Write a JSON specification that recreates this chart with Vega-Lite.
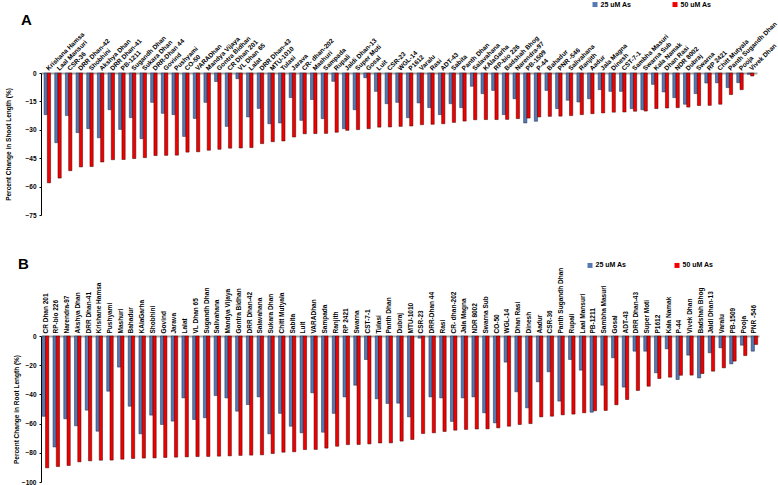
{
  "$schema": "https://vega.github.io/schema/vega-lite/v6.json",
  "background": "white",
  "padding": {"left": 5, "top": 0, "right": 0, "bottom": 0},
  "spacing": 37,
  "config": {
    "view": {"stroke": null},
    "font": "Liberation Sans",
    "axis": {"labelFont": "Liberation Sans", "titleFont": "Liberation Sans", "labelColor": "black", "titleColor": "black"},
    "legend": {"labelFont": "Liberation Sans"},
    "title": {"font": "Liberation Sans"}
  },
  "resolve": {"scale": {"color": "independent", "stroke": "independent"}, "legend": {"color": "independent"}},
  "datasets": {
    "shootLength": [
      {"Variety": "Krishana Hamsa", "25 uM As": -22, "50 uM As": -58},
      {"Variety": "Laal Mansuri", "25 uM As": -36.8, "50 uM As": -55.5},
      {"Variety": "CSR-36", "25 uM As": -22.5, "50 uM As": -51.6},
      {"Variety": "DRR Dhan-42", "25 uM As": -31.5, "50 uM As": -49.6},
      {"Variety": "Shobhini", "25 uM As": -29.4, "50 uM As": -49.4},
      {"Variety": "Akshya Dhan", "25 uM As": -34.2, "50 uM As": -47},
      {"Variety": "DRR Dhan-41", "25 uM As": -19.4, "50 uM As": -45.8},
      {"Variety": "PB-1211", "25 uM As": -29.8, "50 uM As": -45.7},
      {"Variety": "Sugandh Dhan", "25 uM As": -23.6, "50 uM As": -45.2},
      {"Variety": "Sukara Dhan", "25 uM As": -34.7, "50 uM As": -44.7},
      {"Variety": "DRR-Dhan 44", "25 uM As": -15.5, "50 uM As": -43.6},
      {"Variety": "Govind", "25 uM As": -21.3, "50 uM As": -43.5},
      {"Variety": "Pushyami", "25 uM As": -22, "50 uM As": -43.4},
      {"Variety": "CO-50", "25 uM As": -33.5, "50 uM As": -41.8},
      {"Variety": "VARADhan", "25 uM As": -24, "50 uM As": -41.6},
      {"Variety": "Mandya Vijaya", "25 uM As": -15.5, "50 uM As": -40.8},
      {"Variety": "Gontra Bidhan", "25 uM As": -4.5, "50 uM As": -40.3},
      {"Variety": "CR Dhan 201", "25 uM As": -28.2, "50 uM As": -39.7},
      {"Variety": "VL Dhan 65", "25 uM As": -3, "50 uM As": -39.6},
      {"Variety": "Lalat", "25 uM As": -23.2, "50 uM As": -39.4},
      {"Variety": "DRR Dhan-43", "25 uM As": -18.7, "50 uM As": -37.3},
      {"Variety": "MTU-1010", "25 uM As": -26.8, "50 uM As": -36.3},
      {"Variety": "Tulasi", "25 uM As": -26.4, "50 uM As": -35.9},
      {"Variety": "Jarava", "25 uM As": -13, "50 uM As": -33.8},
      {"Variety": "CR- dhan-202", "25 uM As": -25, "50 uM As": -32.1},
      {"Variety": "Mashuri", "25 uM As": -14, "50 uM As": -32},
      {"Variety": "Sampada", "25 uM As": -24.1, "50 uM As": -31.9},
      {"Variety": "Rupali", "25 uM As": -4.4, "50 uM As": -31.3},
      {"Variety": "Jaldi Dhan-13", "25 uM As": -29.4, "50 uM As": -30.3},
      {"Variety": "Super Moti", "25 uM As": -19.4, "50 uM As": -29.9},
      {"Variety": "Gosal", "25 uM As": -2.5, "50 uM As": -29.4},
      {"Variety": "Luit", "25 uM As": -9.7, "50 uM As": -28.6},
      {"Variety": "CSR-23", "25 uM As": -16.2, "50 uM As": -28.5},
      {"Variety": "WGL-14", "25 uM As": -15.5, "50 uM As": -28.2},
      {"Variety": "P1612", "25 uM As": -23.6, "50 uM As": -28},
      {"Variety": "Varalu", "25 uM As": -15.8, "50 uM As": -27.3},
      {"Variety": "Rasi", "25 uM As": -18.3, "50 uM As": -27.1},
      {"Variety": "ADT-43", "25 uM As": -22, "50 uM As": -26.8},
      {"Variety": "Sabita", "25 uM As": -16.2, "50 uM As": -26.1},
      {"Variety": "Panth Dhan", "25 uM As": -18.3, "50 uM As": -25.4},
      {"Variety": "Salavahana", "25 uM As": -7, "50 uM As": -24.7},
      {"Variety": "KAlaGarha", "25 uM As": -10.9, "50 uM As": -24.6},
      {"Variety": "RP-bio 226", "25 uM As": -9.2, "50 uM As": -24.6},
      {"Variety": "Badshah Bhog", "25 uM As": -22, "50 uM As": -24.5},
      {"Variety": "Narendra-97", "25 uM As": -13.6, "50 uM As": -24.1},
      {"Variety": "PB-1509", "25 uM As": -26.4, "50 uM As": -23.8},
      {"Variety": "P-44", "25 uM As": -25.5, "50 uM As": -23.2},
      {"Variety": "Bahadur", "25 uM As": -9.2, "50 uM As": -22.9},
      {"Variety": "PNR -546", "25 uM As": -18.8, "50 uM As": -22.8},
      {"Variety": "Salivahana", "25 uM As": -14.4, "50 uM As": -22.5},
      {"Variety": "Ranjith", "25 uM As": -15.3, "50 uM As": -22},
      {"Variety": "Aadur", "25 uM As": -13.6, "50 uM As": -21.5},
      {"Variety": "Jala Magna", "25 uM As": -8.8, "50 uM As": -21.1},
      {"Variety": "Dinesh", "25 uM As": -9.7, "50 uM As": -20.7},
      {"Variety": "CST-7-1", "25 uM As": -9.7, "50 uM As": -20.6},
      {"Variety": "Sambha Masuri", "25 uM As": -18.8, "50 uM As": -20.2},
      {"Variety": "Swarna Sub", "25 uM As": -19.4, "50 uM As": -20.1},
      {"Variety": "Kala Namak", "25 uM As": -6, "50 uM As": -18.8},
      {"Variety": "Dhan Rasi", "25 uM As": -10, "50 uM As": -18.5},
      {"Variety": "NDR 8002", "25 uM As": -13, "50 uM As": -18.3},
      {"Variety": "Dubraj", "25 uM As": -16.5, "50 uM As": -18},
      {"Variety": "Swarna", "25 uM As": -10.9, "50 uM As": -17.2},
      {"Variety": "RP 2421", "25 uM As": -5.3, "50 uM As": -17.1},
      {"Variety": "Chitt Mutyala", "25 uM As": -5.2, "50 uM As": -16.5},
      {"Variety": "Panth Sugandh Dhan", "25 uM As": -7.7, "50 uM As": -11.4},
      {"Variety": "Pooja", "25 uM As": -5.1, "50 uM As": -8.8},
      {"Variety": "Vivek Dhan", "25 uM As": -0.7, "50 uM As": -1.6}
    ],
    "rootLength": [
      {"Variety": "CR Dhan 201", "25 uM As": -55, "50 uM As": -90.3},
      {"Variety": "RP-bio 226", "25 uM As": -76, "50 uM As": -89.4},
      {"Variety": "Narendra-97", "25 uM As": -56.7, "50 uM As": -88.7},
      {"Variety": "Akshya Dhan", "25 uM As": -61.5, "50 uM As": -86.2},
      {"Variety": "DRR Dhan-41", "25 uM As": -50.8, "50 uM As": -85.5},
      {"Variety": "Krishane Hamsa", "25 uM As": -65.2, "50 uM As": -85.1},
      {"Variety": "Pushyami", "25 uM As": -37.8, "50 uM As": -85},
      {"Variety": "Mashuri", "25 uM As": -21.3, "50 uM As": -84.4},
      {"Variety": "Bahadur", "25 uM As": -48.1, "50 uM As": -83.9},
      {"Variety": "KAlaGarha", "25 uM As": -67, "50 uM As": -83.6},
      {"Variety": "Shobhini", "25 uM As": -54.2, "50 uM As": -83.5},
      {"Variety": "Govind", "25 uM As": -60.6, "50 uM As": -83.2},
      {"Variety": "Jarava", "25 uM As": -58.3, "50 uM As": -83},
      {"Variety": "Lalat", "25 uM As": -42.4, "50 uM As": -82.8},
      {"Variety": "VL Dhan 65", "25 uM As": -57.2, "50 uM As": -82.6},
      {"Variety": "Sugandh Dhan", "25 uM As": -56, "50 uM As": -82.5},
      {"Variety": "Salivahana", "25 uM As": -40.8, "50 uM As": -82.3},
      {"Variety": "Mandya Vijaya", "25 uM As": -42.4, "50 uM As": -82.1},
      {"Variety": "Gontra Bidhan", "25 uM As": -51.5, "50 uM As": -81.8},
      {"Variety": "DRR Dhan-42", "25 uM As": -47, "50 uM As": -81.6},
      {"Variety": "Salavahana", "25 uM As": -41.7, "50 uM As": -81.4},
      {"Variety": "Sukara Dhan", "25 uM As": -67, "50 uM As": -80.5},
      {"Variety": "Chitt Mutyala", "25 uM As": -53, "50 uM As": -79.6},
      {"Variety": "Sabita", "25 uM As": -61.8, "50 uM As": -79.3},
      {"Variety": "Luit", "25 uM As": -66.3, "50 uM As": -77.8},
      {"Variety": "VARADhan", "25 uM As": -38.9, "50 uM As": -77.7},
      {"Variety": "Sampada", "25 uM As": -65.9, "50 uM As": -76.8},
      {"Variety": "Ranjith", "25 uM As": -53, "50 uM As": -75.5},
      {"Variety": "RP 2421", "25 uM As": -41.7, "50 uM As": -74.4},
      {"Variety": "Swarna", "25 uM As": -33.7, "50 uM As": -74.3},
      {"Variety": "CST-7-1", "25 uM As": -16.1, "50 uM As": -73.9},
      {"Variety": "Tulasi", "25 uM As": -43, "50 uM As": -73.3},
      {"Variety": "Panth Dhan", "25 uM As": -46.2, "50 uM As": -73.2},
      {"Variety": "Dubraj", "25 uM As": -46, "50 uM As": -72},
      {"Variety": "MTU-1010", "25 uM As": -55.4, "50 uM As": -70.9},
      {"Variety": "CSR-23", "25 uM As": -1.5, "50 uM As": -66.8},
      {"Variety": "DRR-Dhan 44", "25 uM As": -41.7, "50 uM As": -66.3},
      {"Variety": "Rasi", "25 uM As": -42.4, "50 uM As": -65.4},
      {"Variety": "CR- dhan-202", "25 uM As": -58.5, "50 uM As": -64.5},
      {"Variety": "Jala Magna", "25 uM As": -42.4, "50 uM As": -64},
      {"Variety": "NDR 8002", "25 uM As": -41.7, "50 uM As": -63.7},
      {"Variety": "Swarna Sub", "25 uM As": -52.6, "50 uM As": -63.6},
      {"Variety": "CO-50", "25 uM As": -59.5, "50 uM As": -62.9},
      {"Variety": "WGL-14", "25 uM As": -17.9, "50 uM As": -61.8},
      {"Variety": "Dhan Rasi", "25 uM As": -38.2, "50 uM As": -60.6},
      {"Variety": "Dinesh", "25 uM As": -49.2, "50 uM As": -60},
      {"Variety": "Aadur", "25 uM As": -31.4, "50 uM As": -55.4},
      {"Variety": "CSR-36", "25 uM As": -24.5, "50 uM As": -54.9},
      {"Variety": "Panth Sugandh Dhan", "25 uM As": -44.6, "50 uM As": -54},
      {"Variety": "Rupali", "25 uM As": -16.1, "50 uM As": -53.5},
      {"Variety": "Laal Mansuri", "25 uM As": -23.4, "50 uM As": -52.6},
      {"Variety": "PB-1211", "25 uM As": -52.2, "50 uM As": -51.2},
      {"Variety": "Sambha Masuri", "25 uM As": -33.7, "50 uM As": -51},
      {"Variety": "Gosal", "25 uM As": -14.9, "50 uM As": -47.1},
      {"Variety": "ADT-43", "25 uM As": -35, "50 uM As": -43.5},
      {"Variety": "DRR Dhan-43", "25 uM As": -10.4, "50 uM As": -37.3},
      {"Variety": "Super Moti", "25 uM As": -10.4, "50 uM As": -34.4},
      {"Variety": "P1612", "25 uM As": -25.2, "50 uM As": -29.1},
      {"Variety": "Kala Namak", "25 uM As": -8.8, "50 uM As": -28.2},
      {"Variety": "P-44", "25 uM As": -29.8, "50 uM As": -26.9},
      {"Variety": "Vivek Dhan", "25 uM As": -13.1, "50 uM As": -26.8},
      {"Variety": "Badshah Bhog", "25 uM As": -28.7, "50 uM As": -25.7},
      {"Variety": "Jaldi Dhan-13", "25 uM As": -11.5, "50 uM As": -24.1},
      {"Variety": "Varalu", "25 uM As": -8.1, "50 uM As": -21.8},
      {"Variety": "PB-1509", "25 uM As": -19.1, "50 uM As": -17.2},
      {"Variety": "Pooja", "25 uM As": -6.3, "50 uM As": -13.4},
      {"Variety": "PNR -546", "25 uM As": -10.4, "50 uM As": -5.8}
    ]
  },
  "vconcat": [
    {
      "title": {"text": "A", "anchor": "start", "frame": "group", "fontSize": 15, "fontWeight": "bold", "dx": -20, "offset": -27},
      "width": 716,
      "height": 142,
      "data": {"name": "shootLength"},
      "transform": [{"fold": ["25 uM As", "50 uM As"], "as": ["Treatment", "Change"]}],
      "mark": {"type": "bar", "strokeWidth": 0.5},
      "encoding": {
        "x": {
          "field": "Variety", "type": "nominal", "sort": null,
          "scale": {"paddingInner": 0.39, "paddingOuter": 0.29},
          "axis": {"orient": "top", "title": null, "ticks": false, "domainColor": "#a6a6a6", "domainWidth": 2,
                   "labelAngle": -45, "labelAlign": "left", "labelBaseline": "middle", "labelPadding": 4,
                   "labelFontSize": 6.5, "labelFontWeight": "bold", "labelOverlap": false, "labelLimit": 0}
        },
        "xOffset": {"field": "Treatment", "type": "nominal", "scale": {"paddingInner": 0, "paddingOuter": 0}},
        "y": {
          "field": "Change", "type": "quantitative",
          "scale": {"domain": [-75, 0], "nice": false},
          "axis": {"values": [0, -15, -30, -45, -60, -75], "title": "Percent Change in Shoot Length (%)",
                   "titleFontSize": 6.5, "titleFontWeight": "bold", "titlePadding": 13, "grid": false,
                   "domainColor": "black", "tickColor": "black", "tickSize": 2, "labelPadding": 3,
                   "labelFontSize": 6.5, "labelFontWeight": "bold"}
        },
        "color": {
          "field": "Treatment", "type": "nominal",
          "scale": {"domain": ["25 uM As", "50 uM As"], "range": ["#5679b3", "#f20000"]},
          "legend": {"orient": "none", "legendX": 550.5, "legendY": -72.2, "direction": "horizontal", "title": null,
                     "symbolType": "square", "symbolSize": 25, "symbolStrokeWidth": 0, "labelFontSize": 7,
                     "labelFontWeight": "bold", "labelOffset": 2, "columnPadding": 40, "padding": 0}
        },
        "stroke": {
          "field": "Treatment", "type": "nominal",
          "scale": {"domain": ["25 uM As", "50 uM As"], "range": ["#1d2b47", "#3a0000"]},
          "legend": null
        }
      }
    },
    {
      "title": {"text": "B", "anchor": "start", "frame": "group", "fontSize": 15, "fontWeight": "bold", "dx": -23, "offset": -10},
      "width": 718,
      "height": 146,
      "data": {"name": "rootLength"},
      "transform": [{"fold": ["25 uM As", "50 uM As"], "as": ["Treatment", "Change"]}],
      "mark": {"type": "bar", "strokeWidth": 0.5},
      "encoding": {
        "x": {
          "field": "Variety", "type": "nominal", "sort": null,
          "scale": {"paddingInner": 0.39, "paddingOuter": 0.12},
          "axis": {"orient": "top", "title": null, "ticks": false, "domainColor": "#a6a6a6", "domainWidth": 2,
                   "labelAngle": -90, "labelAlign": "left", "labelBaseline": "middle", "labelPadding": 3,
                   "labelFontSize": 6.5, "labelFontWeight": "bold", "labelOverlap": false, "labelLimit": 0}
        },
        "xOffset": {"field": "Treatment", "type": "nominal", "scale": {"paddingInner": 0, "paddingOuter": 0}},
        "y": {
          "field": "Change", "type": "quantitative",
          "scale": {"domain": [-100, 0], "nice": false},
          "axis": {"values": [0, -20, -40, -60, -80, -100], "title": "Percent Change in Root Length (%)",
                   "titleFontSize": 6.5, "titleFontWeight": "bold", "titlePadding": 2, "grid": false,
                   "domainColor": "black", "tickColor": "black", "tickSize": 2, "labelPadding": 3,
                   "labelFontSize": 6.5, "labelFontWeight": "bold"}
        },
        "color": {
          "field": "Treatment", "type": "nominal",
          "scale": {"domain": ["25 uM As", "50 uM As"], "range": ["#5679b3", "#f20000"]},
          "legend": {"orient": "none", "legendX": 545.5, "legendY": -74.3, "direction": "horizontal", "title": null,
                     "symbolType": "square", "symbolSize": 25, "symbolStrokeWidth": 0, "labelFontSize": 7,
                     "labelFontWeight": "bold", "labelOffset": 2, "columnPadding": 47, "padding": 0}
        },
        "stroke": {
          "field": "Treatment", "type": "nominal",
          "scale": {"domain": ["25 uM As", "50 uM As"], "range": ["#1d2b47", "#3a0000"]},
          "legend": null
        }
      }
    }
  ]
}
